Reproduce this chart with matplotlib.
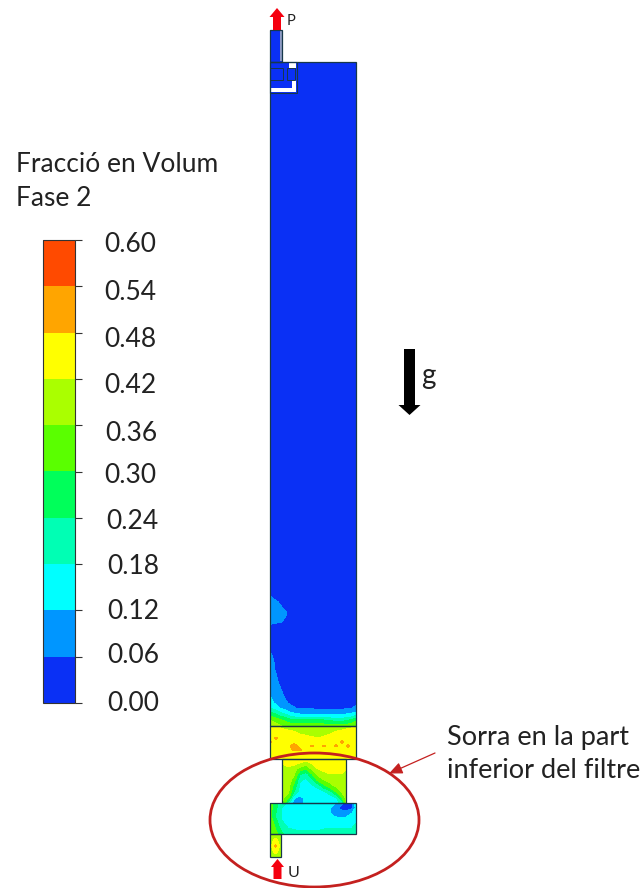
import numpy as np
import matplotlib
matplotlib.use("Agg")
import matplotlib.pyplot as plt
from matplotlib.colors import ListedColormap, BoundaryNorm
from matplotlib.cm import ScalarMappable
from matplotlib.patches import Ellipse, Polygon, Rectangle
from matplotlib.transforms import ScaledTranslation

plt.rcParams['font.family'] = ['Lato', 'DejaVu Sans']

# legend
LEVELS = [0.00, 0.06, 0.12, 0.18, 0.24, 0.30, 0.36, 0.42, 0.48, 0.54, 0.60]
TICK_LABELS = ["0.00", "0.06", "0.12", "0.18", "0.24", "0.30", "0.36", "0.42", "0.48", "0.54", "0.60"]
BAND_COLORS = ["#0a30f5", "#0096ff", "#00ffff", "#00ffb4", "#00ff5a",
               "#5aff00", "#aaff00", "#ffff00", "#ffa500", "#ff4a00"]
LABEL_DX = [3, 3, 3, 3, 2, 0, 1, 0, 0, 0, 0]
LABEL_DY = [-2, -4, -1, 0, 1, 1.5, 6, 4, 4, 4, 2]

# main column field, lower part
MAIN_X = [270, 274, 278, 282, 286, 290, 296, 304, 314, 324, 334, 344, 352, 356]
MAIN_Y = [62, 590, 597, 605, 613, 620, 627, 640, 655, 670, 685, 695, 703, 708, 712, 716, 720, 726]
MAIN_F = [
    [.03] * 14,
    [.03] * 14,
    [.07, .05, .03, .03, .03, .03, .03, .03, .03, .03, .03, .03, .03, .03],
    [.09, .09, .08, .05, .03, .03, .03, .03, .03, .03, .03, .03, .03, .03],
    [.09, .09, .09, .08, .07, .03, .03, .03, .03, .03, .03, .03, .03, .03],
    [.09, .09, .08, .07, .04, .03, .03, .03, .03, .03, .03, .03, .03, .03],
    [.04, .03, .03, .03, .03, .03, .03, .03, .03, .03, .03, .03, .03, .03],
    [.03] * 14,
    [.07, .05, .03, .03, .03, .03, .03, .03, .03, .03, .03, .03, .03, .03],
    [.09, .07, .03, .03, .03, .03, .03, .03, .03, .03, .03, .03, .03, .03],
    [.10, .09, .07, .04, .03, .03, .03, .03, .03, .03, .03, .03, .03, .03],
    [.12, .10, .08, .07, .04, .03, .03, .03, .03, .03, .03, .03, .03, .04],
    [.15, .12, .10, .09, .07, .05, .04, .04, .04, .04, .04, .04, .04, .05],
    [.18, .16, .13, .11, .10, .08, .06, .055, .05, .05, .05, .05, .06, .07],
    [.24, .22, .19, .16, .14, .12, .10, .09, .09, .09, .09, .09, .10, .12],
    [.30, .28, .25, .23, .21, .18, .15, .14, .14, .14, .13, .14, .16, .20],
    [.36, .34, .32, .30, .28, .26, .25, .24, .25, .24, .22, .22, .25, .28],
    [.41, .40, .38, .36, .35, .34, .33, .33, .33, .33, .32, .32, .34, .36],
]

# yellow section
BED_X = [270, 276, 282, 288, 294, 300, 306, 312, 318, 324, 330, 336, 342, 348, 356]
BED_Y = [726, 730, 734, 738, 742, 746, 750, 755, 759]
BED_F = [
    [.43, .42, .40, .39, .38, .38, .38, .38, .38, .38, .39, .39, .40, .40, .41],
    [.45, .45, .43, .42, .41, .40, .39, .39, .39, .39, .40, .41, .42, .43, .45],
    [.46, .46, .45, .45, .44, .42, .41, .40, .40, .41, .42, .44, .45, .46, .46],
    [.47, .485, .46, .46, .46, .45, .44, .43, .42, .43, .44, .46, .47, .46, .46],
    [.485, .47, .46, .46, .47, .46, .46, .46, .46, .46, .47, .47, .485, .47, .46],
    [.46, .46, .46, .47, .495, .47, .47, .485, .47, .485, .46, .485, .47, .485, .46],
    [.45, .46, .46, .47, .485, .485, .47, .46, .46, .46, .46, .46, .47, .47, .45],
    [.44, .45, .46, .46, .46, .46, .46, .46, .46, .46, .46, .45, .45, .45, .44],
    [.43, .44, .45, .45, .45, .45, .45, .45, .45, .45, .45, .45, .44, .44, .43],
]

# throat
THROAT_X = [282, 288, 294, 300, 306, 312, 318, 324, 330, 336, 342, 346]
THROAT_Y = [759, 764, 769, 774, 780, 786, 792, 798, 803]
THROAT_F = [
    [.43, .44, .45, .45, .44, .45, .45, .45, .45, .45, .45, .44],
    [.42, .43, .43, .41, .38, .42, .44, .45, .45, .45, .44, .43],
    [.41, .41, .39, .33, .30, .37, .42, .44, .44, .44, .43, .42],
    [.41, .40, .37, .25, .21, .30, .38, .40, .42, .42, .42, .41],
    [.40, .40, .33, .19, .17, .22, .32, .36, .38, .40, .40, .40],
    [.40, .39, .28, .17, .15, .17, .20, .28, .34, .37, .39, .39],
    [.39, .38, .24, .15, .15, .15, .15, .17, .21, .30, .37, .38],
    [.38, .32, .13, .10, .14, .15, .15, .15, .15, .17, .30, .37],
    [.36, .20, .09, .10, .14, .15, .15, .15, .15, .15, .20, .36],
]

# lower box
BOX_X = [270, 276, 282, 288, 296, 304, 312, 320, 328, 334, 340, 346, 352, 356]
BOX_Y = [803, 808, 813, 818, 823, 828, 834]
BOX_F = [
    [.34, .26, .20, .17, .15, .15, .15, .15, .15, .13, .09, .04, .04, .16],
    [.33, .25, .18, .15, .15, .15, .15, .15, .14, .10, .05, .03, .05, .14],
    [.32, .24, .17, .14, .14, .14, .15, .15, .14, .10, .08, .08, .12, .16],
    [.33, .24, .17, .14, .14, .14, .14, .15, .15, .13, .12, .13, .15, .17],
    [.35, .26, .19, .16, .15, .15, .15, .16, .16, .16, .16, .16, .17, .18],
    [.36, .29, .21, .18, .17, .17, .17, .17, .18, .18, .18, .18, .18, .19],
    [.37, .32, .25, .22, .20, .20, .20, .20, .21, .21, .21, .21, .21, .22],
]

# inlet pipe
INLET_X = [270, 275.5, 281]
INLET_Y = [834, 840, 846, 852, 857]
INLET_F = [
    [.37, .38, .37],
    [.38, .44, .38],
    [.39, .49, .39],
    [.38, .44, .38],
    [.37, .38, .37],
]

# outlet pipe
OUTLET_X = [270, 282]
OUTLET_Y = [30, 62]
OUTLET_F = [[.03, .03], [.03, .03]]

EDGE = "#17384a"
RED = "#c4201f"
INK = "#222222"

fig = plt.figure(figsize=(6.43, 8.88), dpi=100, facecolor="white")
ax = fig.add_axes([0, 0, 1, 1])
ax.set_xlim(0, 643)
ax.set_ylim(888, 0)
ax.axis("off")

cmap = ListedColormap(BAND_COLORS)
norm = BoundaryNorm(LEVELS, cmap.N)

for xs, ys, f in [(OUTLET_X, OUTLET_Y, OUTLET_F), (MAIN_X, MAIN_Y, MAIN_F), (BED_X, BED_Y, BED_F),
                  (THROAT_X, THROAT_Y, THROAT_F), (BOX_X, BOX_Y, BOX_F), (INLET_X, INLET_Y, INLET_F)]:
    ax.contourf(xs, ys, f, levels=LEVELS, cmap=cmap, norm=norm, zorder=1)
    ax.add_patch(Rectangle((xs[0], ys[0]), xs[-1] - xs[0], ys[-1] - ys[0], fill=False,
                           ec=EDGE, lw=0.9, zorder=3))

# outlet details
ax.add_patch(Rectangle((279.5, 30), 2.5, 31, fc="#8f9cc4", ec="none", zorder=2))
ax.add_patch(Rectangle((270, 88.5), 26, 3.5, fc="white", ec="none", zorder=2))
ax.add_patch(Rectangle((292, 80), 4, 12, fc="white", ec="none", zorder=2))
ax.add_patch(Rectangle((289, 62), 7, 6, fc="white", ec="none", zorder=2))
ax.add_patch(Rectangle((270, 62), 27, 31, fill=False, ec=EDGE, lw=0.8, zorder=3))
ax.add_patch(Rectangle((270, 68), 13, 12, fill=False, ec=EDGE, lw=0.7, zorder=3))
ax.add_patch(Rectangle((287, 68), 8, 12, fill=False, ec=EDGE, lw=0.7, zorder=3))


def up_arrow(x, y0, y1, y_head, half_w, half_s, color):
    ax.add_patch(Polygon([(x, y0), (x + half_w, y_head), (x + half_s, y_head), (x + half_s, y1),
                          (x - half_s, y1), (x - half_s, y_head), (x - half_w, y_head)],
                         closed=True, fc=color, ec="none", zorder=4))


up_arrow(277, 8, 30, 17, 7.5, 4, "#f5000f")
up_arrow(277.5, 859, 879, 867, 6.5, 4, "#f5000f")
ax.text(287, 25, "P", fontsize=10.5, color=INK, va="baseline", ha="left")
ax.text(287.5, 877, "U", fontsize=11.5, color=INK, va="baseline", ha="left")

# gravity
ax.add_patch(Polygon([(409.5, 415), (420.5, 405), (415, 405), (415, 349), (404, 349), (404, 405), (398.5, 405)],
                     closed=True, fc="black", ec="none", zorder=4))
ax.text(421.5, 384, "g", fontsize=20, color=INK, va="baseline", ha="left")

# highlighted zone
ax.add_patch(Ellipse((314.5, 820), 209, 134, fill=False, ec=RED, lw=2.0, zorder=5))
ax.annotate("", xy=(389, 773.5), xytext=(435, 753),
            arrowprops=dict(arrowstyle="-|>,head_length=0.8,head_width=0.35", color=RED, lw=0.9, shrinkA=0, shrinkB=0),
            zorder=6)
ax.text(447, 745, "Sorra en la part", fontsize=19.5, color=INK, va="baseline", ha="left")
ax.text(447, 778, "inferior del filtre", fontsize=19.5, color=INK, va="baseline", ha="left")

ax.text(16, 172, "Fracció en Volum", fontsize=19, color=INK, va="baseline", ha="left")
ax.text(16, 206, "Fase 2", fontsize=19, color=INK, va="baseline", ha="left")

# colour bar
cax = fig.add_axes([43 / 643, 1 - 703 / 888, 32 / 643, 463 / 888])
cb = fig.colorbar(ScalarMappable(norm=norm, cmap=cmap), cax=cax, ticks=LEVELS, spacing="uniform")
cb.ax.set_yticklabels(TICK_LABELS, fontsize=19, color=INK)
cb.ax.tick_params(length=5, width=0.8, color="#333333", pad=16)
cb.outline.set_edgecolor("#333333")
cb.outline.set_linewidth(0.8)
cb.ax.minorticks_off()
for lab, dx, dy in zip(cb.ax.get_yticklabels(), LABEL_DX, LABEL_DY):
    lab.set_transform(lab.get_transform() + ScaledTranslation(dx / 100, -dy / 100, fig.dpi_scale_trans))

fig.savefig("out.png", dpi=100, facecolor="white")
